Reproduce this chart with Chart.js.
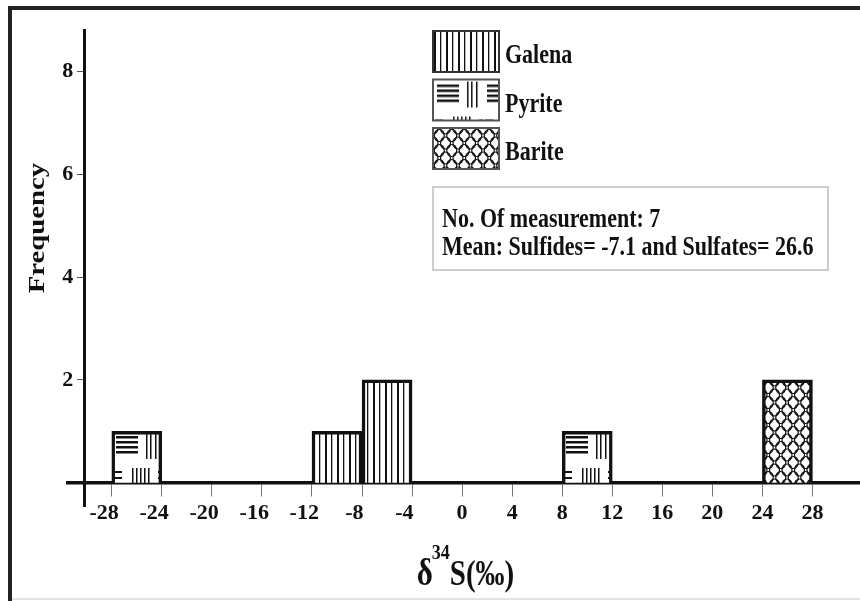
<!DOCTYPE html>
<html>
<head>
<meta charset="utf-8">
<script src="https://cdn.jsdelivr.net/npm/chart.js@4.4.1/dist/chart.umd.min.js"></script>
<style>
  html, body { margin: 0; padding: 0; background: #fff; }
  canvas { display: block; }
</style>
</head>
<body>
<canvas id="chart" width="860" height="601"></canvas>
<script>
// bin centres (‰) and counts, 4‰ wide bins
const galenaX = [-10, -6];
const galenaFreq = [1, 2];
const pyriteX = [-26, 10];
const pyriteFreq = [1, 1];
const bariteX = [26];
const bariteFreq = [2];
const seriesNames = ["Galena", "Pyrite", "Barite"];
const noteLines = ["No. Of measurement: 7", "Mean: Sulfides= -7.1 and Sulfates= 26.6"];
const xTickValues = [-28, -24, -20, -16, -12, -8, -4, 0, 4, 8, 12, 16, 20, 24, 28];
const yTickValues = [2, 4, 6, 8];

const serif = '"Liberation Serif", "Times New Roman", serif';
const ink = "#111";

function makeTile(w, h, paint) {
  const c = document.createElement("canvas");
  c.width = w;
  c.height = h;
  const g = c.getContext("2d");
  g.fillStyle = "#fff";
  g.fillRect(0, 0, w, h);
  g.fillStyle = ink;
  g.strokeStyle = ink;
  paint(g, w, h);
  return c;
}

const tiles = {
  galena: makeTile(12, 12, (g, w, h) => {
    g.fillRect(1, 0, 2, h);
    g.fillRect(7, 0, 1.3, h);
  }),
  pyrite: makeTile(50, 52, (g) => {
    for (const y of [5, 10, 15, 20]) g.fillRect(4, y, 22, 2.5);
    for (const x of [34, 38, 43]) g.fillRect(x, 2, 1.5, 26);
    for (const y of [40, 46]) {
      g.fillRect(2, y, 8, 2);
      g.fillRect(46, y, 4, 2);
    }
    for (const x of [20, 24, 28, 32, 36]) g.fillRect(x, 37, 1.5, 15);
  }),
  barite: makeTile(25, 30, (g) => {
    g.lineWidth = 1.2;
    for (let i = -1; i <= 2; i++) {
      for (let j = -1; j <= 2; j++) {
        for (const [cx, cy] of [[i * 12.5, j * 15], [i * 12.5 + 6.25, j * 15 + 7.5]]) {
          g.beginPath();
          g.ellipse(cx, cy, 5, 6, 0, 0, Math.PI * 2);
          g.stroke();
        }
      }
    }
  }),
};

const ctx = document.getElementById("chart").getContext("2d");

function pattern(kind, ox, oy) {
  const p = ctx.createPattern(tiles[kind], "repeat");
  p.setTransform(new DOMMatrix().translate(ox, oy));
  return p;
}

const toPoints = (xs, ys) => xs.map((x, i) => ({ x: x, y: ys[i] }));

function stretchedText(c, text, x, y, size, sy, align) {
  c.save();
  c.translate(x, y);
  c.scale(1, sy);
  c.font = "bold " + size + "px " + serif;
  c.textAlign = align || "left";
  c.textBaseline = "alphabetic";
  c.fillStyle = ink;
  c.fillText(text, 0, 0);
  c.restore();
}

const decor = {
  id: "decor",
  beforeDraw(chart) {
    const c = chart.ctx;
    c.save();
    c.fillStyle = "#222";
    c.fillRect(8, 6, 852, 4);
    c.fillRect(8, 6, 4, 595);
    c.fillStyle = "#e2e2e2";
    c.fillRect(12, 598, 848, 2);
    c.restore();
  },
  afterDraw(chart) {
    const c = chart.ctx;
    // legend
    const kinds = ["galena", "pyrite", "barite"];
    seriesNames.forEach((name, i) => {
      const top = 31 + i * 48.5;
      c.save();
      c.fillStyle = pattern(kinds[i], 433, top);
      c.fillRect(433, top, 66, 41);
      c.lineWidth = 2;
      c.strokeStyle = i === 0 ? "#333" : "#555";
      c.strokeRect(433, top, 66, 41);
      c.restore();
      stretchedText(c, name, 505, top + 32, 22, 1.25);
    });

    // note box
    c.save();
    c.strokeStyle = "#bdbdbd";
    c.lineWidth = 1.5;
    c.strokeRect(433, 187, 395, 83);
    c.restore();
    stretchedText(c, noteLines[0], 442, 227, 22, 1.25);
    stretchedText(c, noteLines[1], 442, 255, 22, 1.25);

    // y title
    c.save();
    c.translate(44, 228);
    c.rotate(-Math.PI / 2);
    c.scale(1.25, 1);
    c.font = "bold 23px " + serif;
    c.textAlign = "center";
    c.textBaseline = "alphabetic";
    c.fillStyle = ink;
    c.fillText("Frequency", 0, 0);
    c.restore();

    // x title: δ34S(‰)
    c.save();
    c.font = "bold 31px " + serif;
    const wD = c.measureText("δ").width;
    c.font = "bold 29px " + serif;
    const wS = c.measureText("S(‰)").width;
    c.font = "bold 18px " + serif;
    const w34 = c.measureText("34").width;
    c.restore();
    const x0 = 466 - (wD + w34 + wS) / 2;
    stretchedText(c, "δ", x0, 585, 31, 1.2);
    stretchedText(c, "34", x0 + wD - 1, 559, 18, 1.15);
    stretchedText(c, "S(‰)", x0 + wD + w34 - 1, 585, 29, 1.2);
  },
};

new Chart(ctx, {
  type: "bar",
  data: {
    datasets: [
      {
        label: seriesNames[0],
        data: toPoints(galenaX, galenaFreq),
        backgroundColor: pattern("galena", 0, 0),
      },
      {
        label: seriesNames[1],
        data: toPoints(pyriteX, pyriteFreq),
        backgroundColor: pattern("pyrite", 112, 431),
      },
      {
        label: seriesNames[2],
        data: toPoints(bariteX, bariteFreq),
        backgroundColor: pattern("barite", 762, 380),
      },
    ],
  },
  options: {
    responsive: false,
    animation: false,
    layout: { padding: { left: 68, top: 30, right: 0, bottom: 95 } },
    datasets: {
      bar: {
        grouped: false,
        barPercentage: 1,
        categoryPercentage: 1,
        borderColor: ink,
        borderWidth: 3.5,
      },
    },
    plugins: {
      legend: { display: false },
      tooltip: { enabled: false },
    },
    scales: {
      x: {
        type: "linear",
        min: -31.5,
        max: 31.8,
        offset: false,
        position: { y: 0 },
        afterBuildTicks: (s) => {
          s.ticks = xTickValues.map((v) => ({ value: v }));
        },
        ticks: {
          autoSkip: false,
          maxRotation: 0,
          padding: 5,
          color: ink,
          font: { family: serif, size: 22, weight: "bold" },
          callback: (v) => (v < 0 ? v + "\u2002\u2009" : String(v)),
        },
        grid: { offset: false, drawOnChartArea: false, tickLength: 12, color: "#777", lineWidth: 1 },
        border: { color: ink, width: 3.5 },
      },
      y: {
        type: "linear",
        min: -0.45,
        max: 8.8,
        position: { x: -30.2 },
        afterBuildTicks: (s) => {
          s.ticks = yTickValues.map((v) => ({ value: v }));
        },
        ticks: {
          color: ink,
          font: { family: serif, size: 22, weight: "bold" },
          callback: (v) => v + "\u2002",
        },
        grid: { drawOnChartArea: false, tickLength: 6, color: "#555", lineWidth: 1 },
        border: { color: ink, width: 3 },
      },
    },
  },
  plugins: [decor],
});
</script>
</body>
</html>
